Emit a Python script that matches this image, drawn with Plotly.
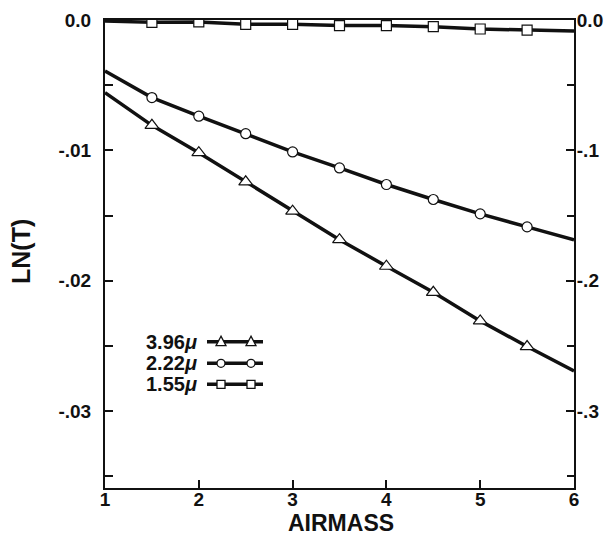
import plotly.graph_objects as go

airmass = [1, 1.5, 2, 2.5, 3, 3.5, 4, 4.5, 5, 5.5, 6]
ln_t_396 = [-0.00558, -0.00808, -0.01018, -0.01241, -0.01466, -0.01685, -0.01889,
            -0.02089, -0.02308, -0.02505, -0.02692]
ln_t_222 = [-0.00392, -0.00595, -0.00738, -0.00872, -0.01012, -0.01135, -0.01262,
            -0.01377, -0.01487, -0.01587, -0.01687]
ln_t_155 = [-0.00008, -0.00018, -0.00015, -0.00033, -0.00033, -0.00043, -0.00043,
            -0.00051, -0.00069, -0.00077, -0.00085]
series_names = ["3.96<i>μ</i>", "2.22<i>μ</i>", "1.55<i>μ</i>"]
symbols = ["triangle-up", "circle", "square"]

left_tickvals = [0, -0.01, -0.02, -0.03]
left_ticktext = ["0.0", "-.01", "-.02", "-.03"]
right_tickvals = [0, -0.1, -0.2, -0.3]
right_ticktext = ["0.0", "-.1", "-.2", "-.3"]
x_tickvals = [1, 2, 3, 4, 5, 6]
x_title = "AIRMASS"
y_title = "LN(T)"

FONT = "Liberation Sans, Arial, sans-serif"
BLACK = "#111111"

# plot area in pixels
L, R, T, B = 105, 574, 20, 488
W, H = R - L, B - T


def px(xp):
    return (xp - L) / W


def py(yp):
    return (B - yp) / H


fig = go.Figure()
n = len(airmass)
sizes = {"triangle-up": 12, "circle": 10, "square": 10}
for ys, sym in zip([ln_t_396, ln_t_222, ln_t_155], symbols):
    msizes = [0] + [sizes[sym]] * (n - 2) + [0]
    fig.add_trace(go.Scatter(
        x=airmass, y=ys, mode="lines+markers", showlegend=False,
        line=dict(color=BLACK, width=3.5),
        marker=dict(symbol=sym, size=msizes, color="#ffffff", opacity=1,
                    line=dict(color=BLACK, width=1.2)),
    ))

# invisible trace to activate right axis
fig.add_trace(go.Scatter(x=[airmass[0]], y=[0], yaxis="y2", mode="markers",
                         marker=dict(opacity=0), showlegend=False, hoverinfo="skip"))

tickfont = dict(family=FONT, size=19, color=BLACK, weight="bold")
axis_common = dict(showline=True, linecolor=BLACK, linewidth=2, ticks="inside",
                   tickcolor=BLACK, tickwidth=1.5, ticklen=8, showgrid=False,
                   zeroline=False, tickfont=tickfont, automargin=False)

ymin = -0.0359
fig.update_layout(
    width=614, height=544,
    margin=dict(l=L, r=614 - R, t=T, b=544 - B, autoexpand=False),
    paper_bgcolor="white", plot_bgcolor="white",
    showlegend=False,
    xaxis=dict(range=[1, 6], tickvals=x_tickvals, mirror=True,
               ticklabelstandoff=-7, **axis_common),
    yaxis=dict(range=[ymin, 0], tickvals=left_tickvals, ticktext=left_ticktext,
               minor=dict(tickmode="linear", tick0=0, dtick=0.005, ticks="inside", ticklen=8,
                          tickcolor=BLACK, tickwidth=1.5),
               ticklabelstandoff=8, **axis_common),
    yaxis2=dict(range=[ymin * 10, 0], tickvals=right_tickvals, ticktext=right_ticktext,
                overlaying="y", side="right",
                minor=dict(tickmode="linear", tick0=0, dtick=0.05, ticks="inside", ticklen=7,
                           tickcolor=BLACK, tickwidth=1.5),
                ticklabelstandoff=-3, **axis_common),
)

# axis titles
fig.add_annotation(x=px(341), y=py(523), xref="paper", yref="paper", text=x_title,
                   showarrow=False, xanchor="center", yanchor="middle",
                   font=dict(family=FONT, size=23, color=BLACK, weight="bold"))
fig.add_annotation(x=px(21), y=py(252), xref="paper", yref="paper", text=y_title,
                   showarrow=False, xanchor="center", yanchor="middle", textangle=-90,
                   font=dict(family=FONT, size=25, color=BLACK, weight="bold"))

# legend drawn by hand: label, line sample with two markers
label_rows = [341.7, 363.3, 384.3]
for nm, sym, yp in zip(series_names, symbols, label_rows):
    fig.add_annotation(x=px(199), y=py(yp), xref="paper", yref="paper",
                       text=nm, showarrow=False, xanchor="right", yanchor="middle",
                       font=dict(family=FONT, size=20, color=BLACK, weight="bold"))
    fig.add_shape(type="line", xref="paper", yref="paper",
                  x0=px(207), x1=px(263), y0=py(yp), y1=py(yp),
                  line=dict(color=BLACK, width=3.5))
    for cx in (221, 251):
        if sym == "triangle-up":
            s = 10
            path = "M {} {} L {} {} L {} {} Z".format(
                px(cx), py(yp - s * 0.55), px(cx - s / 2), py(yp + s * 0.4),
                px(cx + s / 2), py(yp + s * 0.4))
            fig.add_shape(type="path", xref="paper", yref="paper", path=path,
                          fillcolor="white", line=dict(color=BLACK, width=1.3))
        else:
            r = 4
            fig.add_shape(type="circle" if sym == "circle" else "rect",
                          xref="paper", yref="paper",
                          x0=px(cx - r), x1=px(cx + r), y0=py(yp + r), y1=py(yp - r),
                          fillcolor="white", line=dict(color=BLACK, width=1.3))

fig.write_html("out.html", config={"displayModeBar": False},
               post_script="document.body.style.margin='0';")
